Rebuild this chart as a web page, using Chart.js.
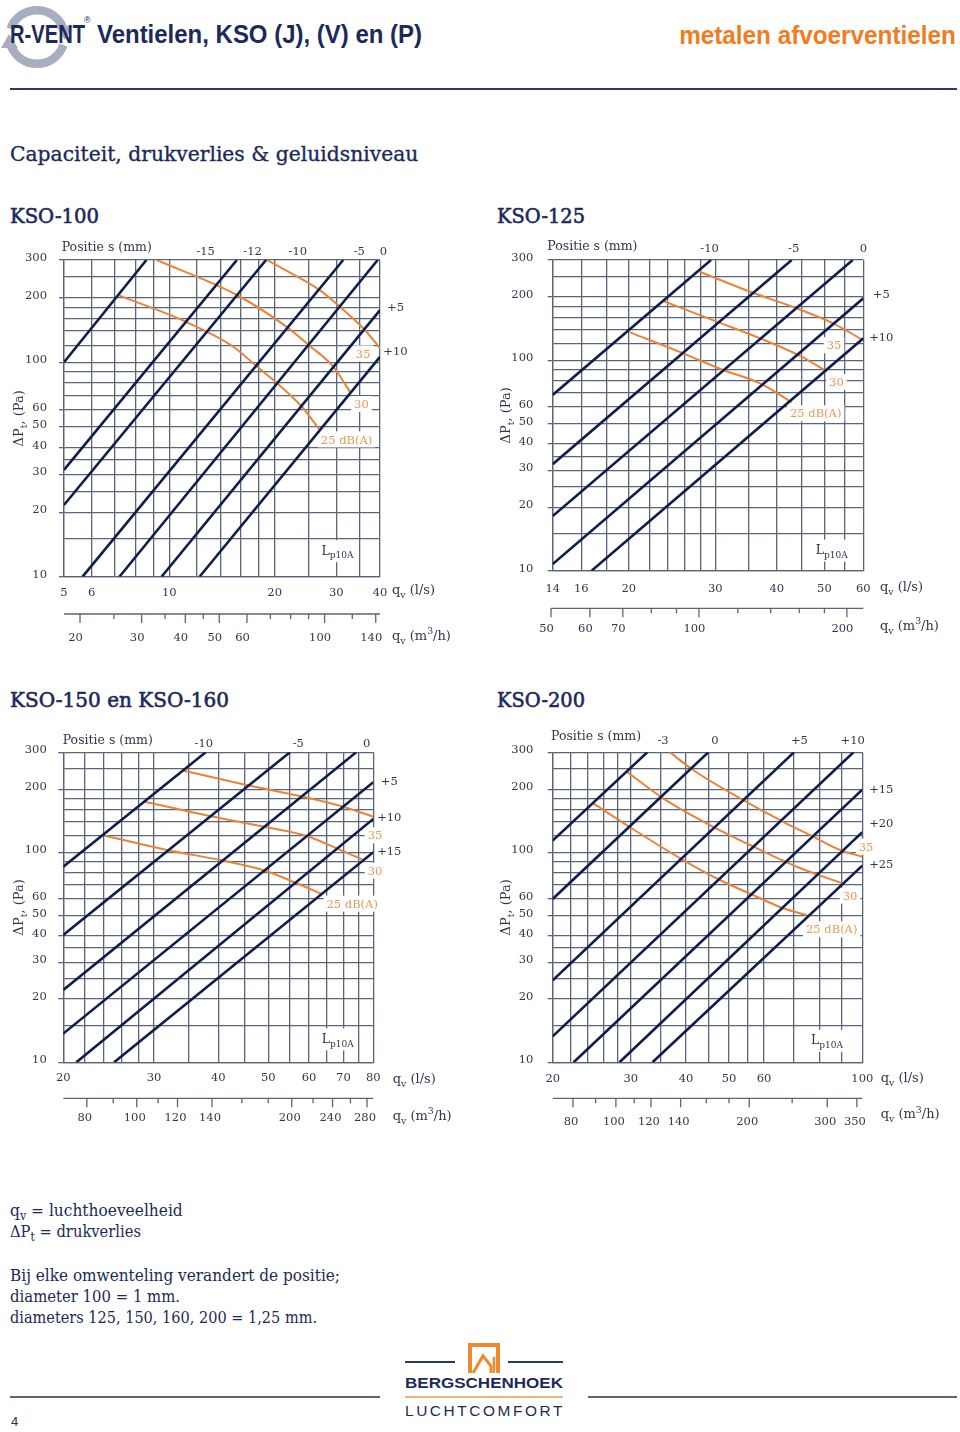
<!DOCTYPE html>
<html lang="nl">
<head>
<meta charset="utf-8">
<title>R-VENT Ventielen, KSO (J), (V) en (P)</title>
<script src="https://cdn.jsdelivr.net/npm/chart.js"></script>
<style>
html,body{margin:0;padding:0;background:#fff;}
#page{position:relative;width:960px;height:1432px;overflow:hidden;background:#fff;}
.t{position:absolute;white-space:nowrap;line-height:1;transform-origin:0 0;}
.serif{font-family:"DejaVu Serif",serif;}
.sans{font-family:"Liberation Sans",Arial,sans-serif;}
.rule{position:absolute;}
canvas{position:absolute;}
sub{font-size:72%;vertical-align:-0.3em;line-height:0;}
</style>
</head>
<body>
<div id="page">
<svg class="rule" style="left:0;top:0" width="80" height="75" viewBox="0 0 80 75">
  <g fill="none" stroke="#a7aec0" stroke-width="8.5">
    <path d="M10.6,28.8 A28,28 0 0 1 63.4,28.8"/>
    <path d="M63.4,45.2 A28,28 0 0 1 10.6,45.2"/>
  </g>
  <polygon points="56,26 73,26 65,40" fill="#a7aec0"/>
  <polygon points="1,48 18,48 9,34" fill="#a7aec0"/>
</svg>
<div class="rule" style="left:10px;top:88.3px;width:947px;height:2px;background:#2b3a62"></div>
<div class="rule" style="left:10px;top:1395.5px;width:370px;height:2px;background:#5d6678"></div>
<div class="rule" style="left:588px;top:1395.5px;width:369px;height:2px;background:#5d6678"></div>
<div class="rule" style="left:405px;top:1361px;width:50px;height:2px;background:#2b3a62"></div>
<div class="rule" style="left:508px;top:1361px;width:55px;height:2px;background:#2b3a62"></div>
<div class="rule" style="left:405px;top:1395.5px;width:158px;height:2px;background:#efb47c"></div>
<svg class="rule" style="left:466px;top:1341px" width="36" height="34" viewBox="0 0 36 34">
  <path d="M4,32 V4 H32 V32" fill="none" stroke="#ee8a2e" stroke-width="4"/>
  <path d="M7,32 L17,15 L25,25 V32" fill="none" stroke="#ee8a2e" stroke-width="3"/>
  <path d="M28,32 V16" fill="none" stroke="#ee8a2e" stroke-width="2.5"/>
</svg>
</div>
<script>
// ---------------- DATA ----------------
const pressureGrid = [10,15,20,25,30,35,40,50,60,70,80,90,100,120,140,160,180,200,250,300];
const pressureLabels = [10,20,30,40,50,60,100,200,300];

// KSO-100
const kso100Flow = [5,6,7,8,9,10,12,14,16,18,20,25,30,35,40];
const kso100FlowLabels = [5,6,10,20,30,40];
const kso100M3h = [20,25,30,35,40,45,50,60,70,80,90,100,120,140];
const kso100M3hLabels = [20,30,40,50,60,100,140];
const kso100Positions = [
  [[5,100],[8.6,300]],
  [[5,31.5],[15.6,300]],
  [[5,21.6],[18.9,300]],
  [[5.65,10],[31.4,300]],
  [[7.2,10],[39.4,300]],
  [[9.5,10],[40,175]],
  [[12.2,10],[40,106]]
];
const kso100Noise35 = [[19.0,300],[26.9,217],[31.1,178.5],[36.2,141.5],[40,116.3]];
const kso100Noise30 = [[9.2,300],[15.6,206],[21.6,146.6],[25,120.5],[29.4,95.5],[32.8,73]];
const kso100Noise25 = [[7.2,204.6],[11.1,155],[15.2,118.5],[17.8,95.5],[20.3,80],[23.9,62.2],[26.8,48.8]];
const kso100TopLabels = [['-15',12.7],['-12',17.3],['-10',23.3],['-5',34.9],['0',40.9]];
const kso100SideLabels = [['+5',181],['+10',113]];
const kso100NoiseLabels = [['35',35.8,110],['30',35.4,63.9],['25 dB(A)',32.1,43.7]];
const kso100Lp = [27.2,13.3];

// KSO-125
const kso125Flow = [14,16,18,20,22,24,26,28,30,35,40,45,50,55,60];
const kso125FlowLabels = [14,16,20,30,40,50,60];
const kso125M3h = [50,60,70,80,90,100,120,140,160,180,200];
const kso125M3hLabels = [50,60,70,100,200];
const kso125Positions = [
  [[14,68.5],[29.4,300]],
  [[14,32.1],[42.9,300]],
  [[14,18.2],[57.1,300]],
  [[14,10.75],[60,197.3]],
  [[16.8,10],[60,127.3]]
];
const kso125Noise35 = [[27.9,263.9],[35.3,212],[43.9,176.8],[52.1,150],[59.8,125]];
const kso125Noise30 = [[23.5,191.6],[30.2,152.7],[37,127.3],[44.6,105],[50,90]];
const kso125Noise25 = [[20.1,135.9],[25.8,108],[31.1,90],[37,77.8],[42.9,63.2]];
const kso125TopLabels = [['-10',29.2],['-5',43.3],['0',60]];
const kso125SideLabels = [['+5',208],['+10',128.7]];
const kso125NoiseLabels = [['35',52.3,118],['30',52.9,79],['25 dB(A)',48,56]];
const kso125Lp = [48,12.6];

// KSO-150 en KSO-160
const kso150Flow = [20,22,24,26,28,30,35,40,45,50,55,60,65,70,75,80];
const kso150FlowLabels = [20,30,40,50,60,70,80];
const kso150M3h = [80,90,100,110,120,140,160,180,200,220,240,260,280];
const kso150M3hLabels = [80,100,120,140,200,240,280];
const kso150Positions = [
  [[20,85.5],[37.8,300]],
  [[20,40.4],[55.1,300]],
  [[20,22.1],[74.1,300]],
  [[20,13.7],[80,216]],
  [[21.2,10],[80,144.3]],
  [[25.1,10],[80,100.2]]
];
const kso150Noise35 = [[34.3,245],[45.4,209.5],[58.5,184.4],[70,165.2],[80,148]];
const kso150Noise30 = [[28.8,174.4],[38.5,149],[49.7,131.8],[59.4,119.8],[67.9,104.6],[76,92.8]];
const kso150Noise25 = [[24.1,120.2],[31.8,102.7],[40.3,92],[49.3,81.8],[56.8,71.3],[63.5,63.4]];
const kso150TopLabels = [['-10',37.5],['-5',57.2],['0',77.7]];
const kso150SideLabels = [['+5',219],['+10',147],['+15',102]];
const kso150NoiseLabels = [['35',80.6,120.7],['30',80.6,81.9],['25 dB(A)',72.8,57]];
const kso150Lp = [63.5,13];

// KSO-200
const kso200Flow = [20,22,24,26,28,30,35,40,45,50,55,60,70,80,90,100];
const kso200FlowLabels = [20,30,40,50,60,100];
const kso200M3h = [80,90,100,110,120,140,160,180,200,250,300,350];
const kso200M3hLabels = [80,100,120,140,200,300,350];
const kso200Positions = [
  [[20,113.8],[32.7,300]],
  [[20,60],[44.9,300]],
  [[20,24.6],[70.1,300]],
  [[20,13.3],[95.5,300]],
  [[22.3,10],[100,199]],
  [[28.3,10],[100,124.9]],
  [[33.6,10],[100,86.5]]
];
const kso200Noise35 = [[36.8,300],[41.5,247],[53,181],[66.3,140],[77.5,118.9],[89.1,102.7],[100,95.4]];
const kso200Noise30 = [[29.4,242.5],[35.5,181],[44.5,137.7],[56.8,106.5],[71.1,85.5],[89.9,71.3]];
const kso200Noise25 = [[24.7,171.4],[29.9,131.8],[38.8,93.8],[47.7,73.9],[57.8,61.5],[66.3,54.2],[74.9,50.3]];
const kso200TopLabels = [['-3',35.5],['0',46.5],['+5',72.1],['+10',95.1]];
const kso200SideLabels = [['+15',199.9],['+20',137.7],['+25',88.1]];
const kso200NoiseLabels = [['35',102,106.5],['30',93.8,62.2],['25 dB(A)',85.3,43]];
const kso200Lp = [76.6,12.8];

// ---------------- STYLE ----------------
const FONT = '"DejaVu Serif", serif';
const GRID = '#5b647a';
const NAVY = '#0e1d4b';
const ORANGE = '#e8843a';
const ORANGE_TXT = '#e49a55';
const TXT = '#30374c';
const HEAD = '#1b2a5a';

const page = document.getElementById('page');

// ---------------- HTML TEXT ----------------
function addText(o){
  const el = document.createElement('div');
  el.className = 't ' + o.cls;
  el.innerHTML = o.html;
  el.style.fontSize = o.size + 'px';
  el.style.fontWeight = o.weight || 400;
  el.style.color = o.color || HEAD;
  el.style.top = (o.base - o.size*0.846) + 'px';
  if (o.right !== undefined){ el.style.right = (960 - o.right) + 'px'; el.style.transformOrigin = '100% 0'; }
  else el.style.left = o.left + 'px';
  if (o.ls) el.style.letterSpacing = o.ls + 'px';
  if (o.stroke) el.style.webkitTextStroke = o.stroke + 'px ' + (o.color || HEAD);
  if (o.w) el.dataset.w = o.w;
  page.appendChild(el);
}
[
 {html:'R-VENT', cls:'sans', size:25, weight:700, left:10, base:43.3, w:75},
 {html:'&reg;', cls:'sans', size:9, weight:400, left:84, base:24},
 {html:'Ventielen, KSO (J), (V) en (P)', cls:'sans', size:25, weight:700, left:96.7, base:43.3, w:325},
 {html:'metalen afvoerventielen', cls:'sans', size:25, weight:700, right:956, base:44.3, w:276.7, color:'#ee7d22'},
 {html:'Capaciteit, drukverlies &amp; geluidsniveau', cls:'serif', size:20.3, left:10, base:160.7, w:408.3, stroke:0.35},
 {html:'KSO-100', cls:'serif', size:20, left:10, base:222.7, w:89, stroke:0.6},
 {html:'KSO-125', cls:'serif', size:20, left:497, base:222.7, w:88, stroke:0.6},
 {html:'KSO-150 en KSO-160', cls:'serif', size:20, left:10, base:706.5, w:219, stroke:0.6},
 {html:'KSO-200', cls:'serif', size:20, left:497, base:706.5, w:88, stroke:0.6},
 {html:'q<sub>v</sub> = luchthoeveelheid', cls:'serif', size:17, left:10, base:1216.7, w:172.7},
 {html:'&Delta;P<sub>t</sub> = drukverlies', cls:'serif', size:17, left:10, base:1237.3, w:131},
 {html:'Bij elke omwenteling verandert de positie;', cls:'serif', size:17, left:10, base:1281.7, w:330},
 {html:'diameter 100 = 1 mm.', cls:'serif', size:17, left:10, base:1302.7, w:170},
 {html:'diameters 125, 150, 160, 200 = 1,25 mm.', cls:'serif', size:17, left:10, base:1323.3, w:307},
 {html:'BERGSCHENHOEK', cls:'sans', size:14, weight:700, left:405, base:1388, w:158},
 {html:'LUCHTCOMFORT', cls:'sans', size:15, weight:400, left:405, base:1415.5, w:160, ls:2.5},
 {html:'4', cls:'sans', size:13, weight:400, left:11, base:1426, color:'#333'}
].forEach(addText);

function fitAll(){
  document.querySelectorAll('[data-w]').forEach(el=>{
    el.style.transform = 'none';
    const w = el.getBoundingClientRect().width;
    if (w > 0) el.style.transform = 'scaleX(' + (parseFloat(el.dataset.w)/w) + ')';
  });
}
fitAll();
if (document.fonts && document.fonts.ready) document.fonts.ready.then(fitAll);

// ---------------- CANVAS TEXT HELPERS ----------------
function font(size){ return size + 'px ' + FONT; }
function richWidth(ctx, parts, size){
  let w = 0;
  parts.forEach(p => { ctx.font = font(p[1] ? size*0.72 : size); w += ctx.measureText(p[0]).width; });
  return w;
}
function drawRich(ctx, parts, x, cy, size, align, color){
  const w = richWidth(ctx, parts, size);
  let cx = align === 'center' ? x - w/2 : align === 'right' ? x - w : x;
  const base = cy + size*0.36;
  ctx.textAlign = 'left'; ctx.textBaseline = 'alphabetic'; ctx.fillStyle = color;
  parts.forEach(p => {
    const s = p[1] ? size*0.72 : size;
    ctx.font = font(s);
    const dy = p[1] === 'sub' ? size*0.3 : p[1] === 'sup' ? -size*0.4 : 0;
    ctx.fillText(p[0], cx, base + dy);
    cx += ctx.measureText(p[0]).width;
  });
  return w;
}
const LP = [['L',''],['p10A','sub']];
const QLS = [['q',''],['v','sub'],[' (l/s)','']];
const QM3 = [['q',''],['v','sub'],[' (m',''],['3','sup'],['/h)','']];
const YT = [['\u0394P',''],['t','sub'],[', (Pa)','']];

function makeAnnot(c){
  return {
    id: 'annot_' + c.id,
    beforeDatasetsDraw(chart){
      const ctx = chart.ctx, xs = chart.scales.x, ys = chart.scales.y;
      ctx.save();
      ctx.fillStyle = '#ffffff';
      ctx.font = font(11.5);
      c.noiseLabels.forEach(l => {
        const w = ctx.measureText(l[0]).width;
        const px = xs.getPixelForValue(l[1]), py = ys.getPixelForValue(l[2]);
        ctx.fillRect(px - w/2 - 3, py - 8, w + 6, 16);
      });
      const lx = xs.getPixelForValue(c.lp[0]), ly = ys.getPixelForValue(c.lp[1]);
      const lw = richWidth(ctx, LP, 12.5);
      ctx.fillRect(lx - 3, ly - 10, lw + 6, 22);
      ctx.restore();
    },
    afterDraw(chart){
      const ctx = chart.ctx, xs = chart.scales.x, ys = chart.scales.y, x2 = chart.scales.x2;
      const a = chart.chartArea, o = c.off;
      ctx.save();
      c.topLabels.forEach(l => drawRich(ctx, [[l[0],'']], xs.getPixelForValue(l[1]), a.top - o.top, 11.5, 'center', TXT));
      drawRich(ctx, [['Positie s (mm)','']], a.left + o.posDx, a.top - o.posDy, 12.5, 'left', TXT);
      c.sideLabels.forEach(l => drawRich(ctx, [[l[0],'']], a.right + o.side, ys.getPixelForValue(l[1]), 11.5, 'center', TXT));
      c.noiseLabels.forEach(l => drawRich(ctx, [[l[0],'']], xs.getPixelForValue(l[1]), ys.getPixelForValue(l[2]), 11.5, 'center', ORANGE_TXT));
      drawRich(ctx, LP, xs.getPixelForValue(c.lp[0]), ys.getPixelForValue(c.lp[1]), 12.5, 'left', TXT);
      drawRich(ctx, QLS, a.right + o.qlDx, a.bottom + o.qlDy, 13, 'left', TXT);
      // secondary m3/h axis
      const base = a.bottom + o.axis;
      const firstPx = x2.getPixelForValue(c.m3h[0]);
      ctx.strokeStyle = GRID; ctx.lineWidth = 1.3;
      ctx.beginPath();
      ctx.moveTo(Math.min(firstPx, a.left), base); ctx.lineTo(a.right, base);
      c.m3h.forEach(v => {
        const px = x2.getPixelForValue(v);
        const len = c.m3hLabels.includes(v) ? 9 : 5;
        ctx.moveTo(px, base); ctx.lineTo(px, base + len);
      });
      ctx.stroke();
      c.m3hLabels.forEach(v => drawRich(ctx, [[String(v),'']], x2.getPixelForValue(v) + o.m3dx, base + o.m3lab, 11.5, 'center', TXT));
      drawRich(ctx, QM3, a.right + o.qlDx, a.bottom + o.qmDy, 13, 'left', TXT);
      ctx.translate(a.left + o.yt, (a.top + a.bottom)/2);
      ctx.rotate(-Math.PI/2);
      drawRich(ctx, YT, 0, 0, 13, 'center', TXT);
      ctx.restore();
    }
  };
}

// ---------------- CHARTS ----------------
const chartDefs = [
 { id:'kso100', canvas:{x:0,y:230,w:480,h:420}, plot:{L:64,T:260,R:380,B:576.7},
   flow:kso100Flow, flowLabels:kso100FlowLabels, m3h:kso100M3h, m3hLabels:kso100M3hLabels,
   positions:kso100Positions, noise:[kso100Noise25,kso100Noise30,kso100Noise35],
   topLabels:kso100TopLabels, sideLabels:kso100SideLabels, noiseLabels:kso100NoiseLabels, lp:kso100Lp,
   off:{top:9.3, posDx:-2.3, posDy:14, side:15.5, qlDx:12, qlDy:12.3, axis:37.3, m3lab:23.3, m3dx:-4.5, qmDy:58.3, yt:-46, xpad:9.5, ypad:12} },
 { id:'kso125', canvas:{x:485,y:230,w:475,h:420}, plot:{L:552.7,T:260,R:863.3,B:570.7},
   flow:kso125Flow, flowLabels:kso125FlowLabels, m3h:kso125M3h, m3hLabels:kso125M3hLabels,
   positions:kso125Positions, noise:[kso125Noise25,kso125Noise30,kso125Noise35],
   topLabels:kso125TopLabels, sideLabels:kso125SideLabels, noiseLabels:kso125NoiseLabels, lp:kso125Lp,
   off:{top:11.7, posDx:-5.4, posDy:15, side:18, qlDx:16.7, qlDy:16, axis:37.6, m3lab:20, m3dx:-4.5, qmDy:54.3, yt:-47.2, xpad:11, ypad:14.4} },
 { id:'kso150', canvas:{x:0,y:720,w:480,h:420}, plot:{L:63.3,T:752.3,R:373.3,B:1062.3},
   flow:kso150Flow, flowLabels:kso150FlowLabels, m3h:kso150M3h, m3hLabels:kso150M3hLabels,
   positions:kso150Positions, noise:[kso150Noise25,kso150Noise30,kso150Noise35],
   topLabels:kso150TopLabels, sideLabels:kso150SideLabels, noiseLabels:kso150NoiseLabels, lp:kso150Lp,
   off:{top:9.6, posDx:-0.6, posDy:13.3, side:16, qlDx:19.4, qlDy:16, axis:36, m3lab:19, m3dx:-2, qmDy:52.7, yt:-45, xpad:9, ypad:11.6} },
 { id:'kso200', canvas:{x:485,y:720,w:475,h:420}, plot:{L:552.7,T:752.3,R:862.3,B:1062.3},
   flow:kso200Flow, flowLabels:kso200FlowLabels, m3h:kso200M3h, m3hLabels:kso200M3hLabels,
   positions:kso200Positions, noise:[kso200Noise25,kso200Noise30,kso200Noise35],
   topLabels:kso200TopLabels, sideLabels:kso200SideLabels, noiseLabels:kso200NoiseLabels, lp:kso200Lp,
   off:{top:12.3, posDx:-1.7, posDy:16.6, side:19, qlDx:18.4, qlDy:15.4, axis:36, m3lab:22.7, m3dx:-2, qmDy:51, yt:-47.7, xpad:10, ypad:14.4} }
];

function toXY(arr){ return arr.map(p => ({x:p[0], y:p[1]})); }

function build(c){
  const cv = document.createElement('canvas');
  cv.width = c.canvas.w; cv.height = c.canvas.h;
  cv.style.left = c.canvas.x + 'px'; cv.style.top = c.canvas.y + 'px';
  cv.style.width = c.canvas.w + 'px'; cv.style.height = c.canvas.h + 'px';
  page.appendChild(cv);
  const yW = c.plot.L - c.canvas.x;
  const xH = 30;
  const pad = {
    left: 0,
    top: c.plot.T - c.canvas.y,
    right: c.canvas.x + c.canvas.w - c.plot.R,
    bottom: c.canvas.y + c.canvas.h - c.plot.B - xH
  };
  const datasets = [];
  c.noise.forEach(n => datasets.push({data: toXY(n), borderColor: ORANGE, borderWidth: 2, pointRadius: 0,
     cubicInterpolationMode: 'monotone', fill: false, order: 2}));
  c.positions.forEach(p => datasets.push({data: toXY(p), borderColor: NAVY, borderWidth: 2.6, pointRadius: 0,
     tension: 0, fill: false, order: 1}));
  const fmin = c.flow[0], fmax = c.flow[c.flow.length-1];
  new Chart(cv, {
    type: 'line',
    data: { datasets },
    options: {
      responsive: false, animation: false, devicePixelRatio: 1, events: [],
      layout: { padding: pad },
      plugins: { legend: {display: false}, tooltip: {enabled: false}, title: {display: false} },
      scales: {
        x: {
          type: 'logarithmic', position: 'bottom', min: fmin, max: fmax,
          afterBuildTicks: s => { s.ticks = c.flow.map(v => ({value: v})); },
          afterFit: s => { s.height = xH; },
          grid: { color: GRID, lineWidth: 1.3, drawTicks: false },
          border: { color: GRID, width: 1.3 },
          ticks: { autoSkip: false, maxRotation: 0, minRotation: 0, padding: c.off.xpad, color: TXT,
                   font: { family: FONT, size: 11.5 },
                   callback: v => c.flowLabels.includes(v) ? String(v) : '' }
        },
        x2: {
          type: 'logarithmic', position: 'bottom', display: false,
          min: fmin * 3.6, max: fmax * 3.6
        },
        y: {
          type: 'logarithmic', position: 'left', min: 10, max: 300,
          afterBuildTicks: s => { s.ticks = pressureGrid.map(v => ({value: v})); },
          afterFit: s => { s.width = yW; },
          grid: { color: GRID, lineWidth: 1.3, drawTicks: true, tickLength: 5,
                  tickColor: ctx => (ctx.tick && pressureLabels.includes(ctx.tick.value)) ? GRID : 'rgba(0,0,0,0)' },
          border: { color: GRID, width: 1.3 },
          ticks: { autoSkip: false, padding: c.off.ypad, color: TXT, labelOffset: -2,
                   font: { family: FONT, size: 11.5 },
                   callback: v => pressureLabels.includes(v) ? String(v) : '' }
        }
      }
    },
    plugins: [ makeAnnot(c) ]
  });
}
chartDefs.forEach(build);
</script>
</body>
</html>
